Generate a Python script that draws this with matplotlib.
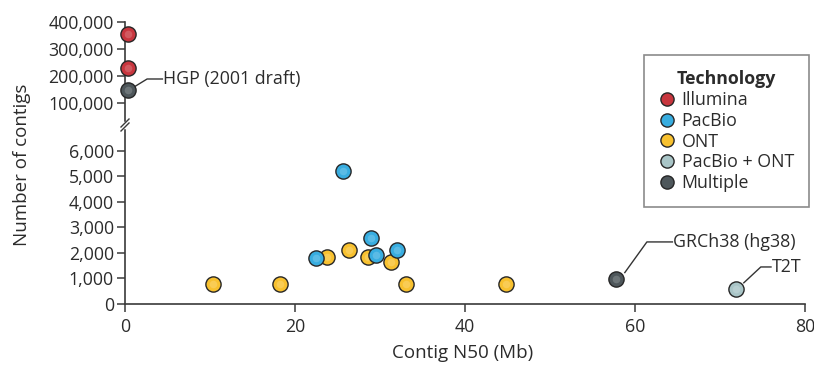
import matplotlib
matplotlib.use("Agg")
import matplotlib.pyplot as plt
from matplotlib.lines import Line2D

plt.rcParams["font.family"] = ["Open Sans", "DejaVu Sans"]

# data
tech_order = ["Illumina", "PacBio", "ONT", "PacBio + ONT", "Multiple"]
tech_colors = {
    "Illumina": "#c8363e",
    "PacBio": "#38ade0",
    "ONT": "#f8c12f",
    "PacBio + ONT": "#a9c5c7",
    "Multiple": "#4e575b",
}

# assemblies with very many contigs (upper panel)
upper_tech = ["Illumina", "Illumina", "Multiple"]
upper_n50 = [0.35, 0.35, 0.35]
upper_contigs = [357000, 230000, 149000]

# lower panel
ont_n50 = [10.4, 18.2, 23.8, 26.4, 28.6, 31.3, 33.1, 44.8]
ont_contigs = [790, 790, 1840, 2110, 1840, 1640, 780, 780]
pacbio_n50 = [25.6, 22.5, 28.9, 29.5, 32.0]
pacbio_contigs = [5200, 1800, 2580, 1920, 2110]
grch38_n50, grch38_contigs = [57.8], [980]
t2t_n50, t2t_contigs = [71.9], [590]

W, H = 814, 367
fig = plt.figure(figsize=(W / 100, H / 100), dpi=100)

def fx(px):
    return px / W

def fy(py):
    return 1 - py / H

ax_up = fig.add_axes([fx(125), fy(123), fx(805) - fx(125), fy(22.3) - fy(123)])
ax_lo = fig.add_axes([fx(125), fy(304), fx(805) - fx(125), fy(127) - fy(304)])

spine_c = "#3a3a3a"
text_c = "#2b2b2b"
fs = 12.8
ms = 120

for ax in (ax_up, ax_lo):
    ax.set_xlim(0, 80)
    ax.patch.set_alpha(0)
    for s in ("top", "right"):
        ax.spines[s].set_visible(False)
    for s in ("left", "bottom"):
        ax.spines[s].set_color(spine_c)
        ax.spines[s].set_linewidth(1.2)
    ax.tick_params(direction="out", length=6, width=1.1, color=spine_c,
                   labelsize=fs, labelcolor=text_c, pad=2)

ax_up.spines["bottom"].set_visible(False)
ax_up.set_xticks([])
ax_up.set_ylim(27000, 400000)
ax_up.set_yticks([100000, 200000, 300000, 400000])
ax_up.set_yticklabels([f"{v:,}" for v in [100000, 200000, 300000, 400000]])

ax_lo.set_ylim(0, 6930)
ax_lo.set_yticks(range(0, 7000, 1000))
ax_lo.set_yticklabels([f"{v:,}" for v in range(0, 7000, 1000)])
ax_lo.set_xticks([0, 20, 40, 60, 80])
ax_lo.tick_params(axis="x", pad=4)

def dots(ax, x, y, tech, z=3):
    ax.scatter(x, y, s=ms, c=tech_colors[tech], edgecolors="#262626",
               linewidths=1.0, zorder=z, clip_on=False)
    # small glossy highlight
    ax.scatter(x, y, s=ms * 0.25, c="white", alpha=0.18, linewidths=0,
               zorder=z + 0.1, clip_on=False)

for t, x, y in zip(upper_tech, upper_n50, upper_contigs):
    dots(ax_up, [x], [y], t)

dots(ax_lo, ont_n50, ont_contigs, "ONT", z=3)
dots(ax_lo, pacbio_n50, pacbio_contigs, "PacBio", z=4)
dots(ax_lo, grch38_n50, grch38_contigs, "Multiple", z=4)
dots(ax_lo, t2t_n50, t2t_contigs, "PacBio + ONT", z=4)

# callouts
lc = "#333333"
ax_up.plot([1.2, 2.6, 4.4], [163000, 190000, 190000], color=lc, lw=1, zorder=2)
ax_up.text(4.5, 190000, "HGP (2001 draft)", fontsize=fs, color=text_c,
           va="center", ha="left")
ax_lo.plot([58.8, 61.4, 64.4], [1230, 2430, 2430], color=lc, lw=1, zorder=2)
ax_lo.text(64.5, 2430, "GRCh38 (hg38)", fontsize=fs, color=text_c,
           va="center", ha="left")
ax_lo.plot([72.8, 74.8, 76.0], [830, 1450, 1450], color=lc, lw=1, zorder=2)
ax_lo.text(76.1, 1450, "T2T", fontsize=fs, color=text_c,
           va="center", ha="left")

# axis break marks
fig.add_artist(Line2D([fx(125), fx(125)], [fy(127), fy(123)], color="white", lw=2.5))
for dy in (-2, 2):
    fig.add_artist(Line2D([fx(121), fx(129)], [fy(129 + dy), fy(121 + dy)],
                          color=spine_c, lw=1.0))

fig.text(fx(22), fy(165), "Number of contigs", rotation=90, fontsize=13.5,
         color=text_c, ha="center", va="center")
fig.text(fx(463), fy(353), "Contig N50 (Mb)", fontsize=13.5, color=text_c,
         ha="center", va="center")

handles = [Line2D([], [], marker="o", ls="", markersize=9.5,
                  markerfacecolor=tech_colors[t], markeredgecolor="#262626",
                  markeredgewidth=1.0, label=t) for t in tech_order]
leg = fig.legend(handles=handles, title="Technology", loc="upper right",
                 bbox_to_anchor=(fx(809), fy(55)), frameon=True,
                 fancybox=False, fontsize=fs, title_fontsize=fs,
                 handlelength=0.8, handletextpad=0.45, labelspacing=0.16,
                 borderpad=0.85, borderaxespad=0)
leg.get_title().set_fontweight("bold")
leg.get_title().set_color(text_c)
for txt in leg.get_texts():
    txt.set_color(text_c)
leg.get_frame().set_edgecolor("#6e6e6e")
leg.get_frame().set_linewidth(1.2)

fig.savefig("out.png", dpi=100)
